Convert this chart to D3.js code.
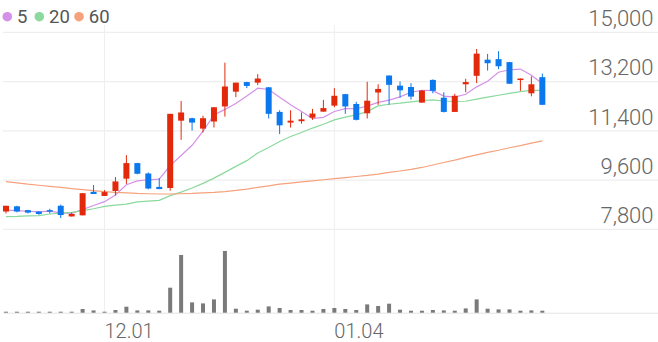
<!DOCTYPE html>
<html>
<head>
<meta charset="utf-8">
<script src="https://cdn.jsdelivr.net/npm/d3@7"></script>
<style>
  body { margin: 0; background: #fff; }
  svg { display: block; font-family: Roboto, "Noto Sans", sans-serif; }
</style>
</head>
<body>
<div id="chart"></div>
<script>
// trading days
const dates = [
  "11.20", "11.21", "11.22", "11.23", "11.24", "11.27", "11.28", "11.29", "11.30",
  "12.01", "12.04", "12.05", "12.06", "12.07", "12.08", "12.11", "12.12", "12.13",
  "12.14", "12.15", "12.18", "12.19", "12.20", "12.21", "12.22", "12.26", "12.27",
  "12.28", "01.02", "01.03", "01.04", "01.05", "01.08", "01.09", "01.10", "01.11",
  "01.12", "01.15", "01.16", "01.17", "01.18", "01.19", "01.22", "01.23", "01.24",
  "01.25", "01.26", "01.29", "01.30", "01.31"
];

const open = [
  8450, 8640, 8500, 8450, 8500, 8660, 8270, 8310, 9170, 9020,
  9200, 9650, 10220, 9840, 9350, 9310, 11770, 11860, 11480, 11740,
  12290, 12830, 13180, 13160, 12990, 12090, 11700, 11750, 11880, 12100,
  12320, 12740, 12380, 12040, 12800, 13420, 13050, 13000, 12430, 13260,
  12610, 12090, 13100, 13410, 14000, 14020, 13910, 13270, 12770, 13360
];
const high = [
  8660, 8660, 8510, 8450, 8550, 8700, 8410, 9120, 9420, 9230,
  9710, 10510, 10230, 9880, 9670, 12020, 12490, 11880, 11950, 12270,
  13890, 13160, 13190, 13470, 13000, 12150, 12150, 12070, 12200, 12530,
  12960, 12750, 12460, 13190, 13100, 13420, 13200, 13140, 12890, 13280,
  12810, 12750, 13300, 14390, 14210, 14310, 13920, 13310, 13390, 13490
];
const low = [
  8380, 8420, 8380, 8330, 8380, 8210, 8270, 8310, 9090, 9020,
  9040, 9460, 9810, 9260, 9270, 9210, 11070, 11410, 11340, 11520,
  11920, 12630, 12960, 13070, 11850, 11280, 11520, 11660, 11800, 12100,
  12260, 12020, 11780, 11850, 12350, 12350, 12610, 12540, 12430, 12770,
  12070, 12090, 12810, 13140, 13600, 13650, 13110, 12860, 12660, 12350
];
const close = [
  8660, 8450, 8410, 8360, 8450, 8320, 8360, 9120, 9090, 9160,
  9550, 10220, 9830, 9290, 9270, 12020, 12070, 11700, 11860, 12260,
  13020, 13160, 13040, 13310, 12020, 11600, 11770, 11820, 12030, 12230,
  12680, 12290, 11800, 12500, 12930, 13080, 12880, 12650, 12870, 12860,
  12090, 12680, 13180, 14220, 13870, 13760, 13120, 13310, 13100, 12350
];

const ma5 = [
  8500, 8480, 8460, 8440, 8466, 8398, 8380, 8522, 8668, 8810,
  9056, 9428, 9570, 9610, 9632, 10126, 10496, 10870, 11384, 11982,
  12182, 12400, 12668, 12958, 12910, 12626, 12348, 12104, 11848, 11890,
  12106, 12210, 12206, 12300, 12440, 12520, 12638, 12808, 12882, 12868,
  12670, 12630, 12736, 13006, 13208, 13542, 13630, 13656, 13432, 13128
];
const ma20 = [
  8260, 8270, 8290, 8300, 8360, 8390, 8420, 8480, 8550, 8640,
  8680, 8720, 8800, 8830, 8860, 9030, 9160, 9310, 9480, 9670,
  9880, 10100, 10310, 10590, 10790, 11010, 11190, 11340, 11500, 11640,
  11800, 11900, 11980, 12100, 12310, 12370, 12410, 12460, 12500, 12530,
  12490, 12470, 12480, 12560, 12630, 12700, 12770, 12830, 12880, 12880
];
const ma60 = [
  9540, 9500, 9450, 9410, 9370, 9330, 9290, 9250, 9210, 9180,
  9150, 9130, 9110, 9100, 9090, 9090, 9100, 9110, 9130, 9150,
  9180, 9220, 9270, 9330, 9390, 9450, 9490, 9530, 9570, 9610,
  9650, 9690, 9730, 9770, 9820, 9880, 9930, 9990, 10060, 10150,
  10240, 10330, 10430, 10520, 10610, 10690, 10780, 10860, 10950, 11030
];

const volume = [
  15000, 12000, 14000, 10000, 16000, 18000, 20000, 111000, 69000, 30000,
  81000, 180000, 69000, 69000, 60000, 750000, 1731000, 309000, 279000, 399000,
  1851000, 120000, 60000, 90000, 189000, 141000, 81000, 81000, 60000, 111000,
  141000, 111000, 81000, 249000, 201000, 270000, 90000, 60000, 60000, 81000,
  69000, 60000, 129000, 399000, 120000, 99000, 99000, 60000, 69000, 60000
];

const priceTicks = [7800, 9600, 11400, 13200, 15000];
const dateTicks = ["12.01", "01.04"];

const maLegend = ["5", "20", "60"];
const maColors = ["#d591e8", "#8bd99d", "#f5a27c"];

const width = 658;
const height = 342;
const upColor = "#e3290b";
const downColor = "#0b78ee";

const svg = d3
  .select("#chart")
  .append("svg")
  .attr("width", width)
  .attr("height", height);

const x = d3.scaleBand().domain(dates).range([0.53, 547.8]).padding(0);
const cx = (d) => x(d) + x.bandwidth() / 2;

const y = d3.scaleLinear().domain([7800, 15000]).range([229.3, 32.3]);
const yVol = d3.scaleLinear().domain([0, 2000000]).range([312.7, 246]);

// horizontal grid + right labels
const grid = svg.append("g");
grid
  .selectAll("line")
  .data(priceTicks)
  .join("line")
  .attr("x1", 3)
  .attr("x2", width)
  .attr("y1", (d) => y(d))
  .attr("y2", (d) => y(d))
  .attr("stroke", "#eeeeee")
  .attr("stroke-width", 1.3);

svg
  .append("g")
  .selectAll("text")
  .data(priceTicks)
  .join("text")
  .attr("x", 653.5)
  .attr("y", (d) => y(d) - 6.3)
  .attr("text-anchor", "end")
  .attr("font-size", 22)
  .attr("font-weight", 300)
  .attr("fill", "#666")
  .text((d) => d3.format(",")(d));

// vertical grid at labelled dates
svg
  .append("g")
  .selectAll("line")
  .data(dateTicks)
  .join("line")
  .attr("x1", (d) => cx(d))
  .attr("x2", (d) => cx(d))
  .attr("y1", 25)
  .attr("y2", 313)
  .attr("stroke", "#efefef")
  .attr("stroke-width", 1);

svg
  .append("g")
  .selectAll("text")
  .data(dateTicks)
  .join("text")
  .attr("x", (d) => cx(d))
  .attr("y", 337.7)
  .attr("font-size", 20)
  .attr("font-weight", 300)
  .attr("fill", "#666")
  .text((d) => d);

// volume baseline
svg
  .append("line")
  .attr("x1", 3)
  .attr("x2", width)
  .attr("y1", 313.2)
  .attr("y2", 313.2)
  .attr("stroke", "#e4e4e4")
  .attr("stroke-width", 1);

// volume bars
svg
  .append("g")
  .selectAll("rect")
  .data(dates)
  .join("rect")
  .attr("x", (d) => cx(d) - 2)
  .attr("width", 4)
  .attr("y", (d, i) => Math.min(yVol(volume[i]), yVol(0) - 1))
  .attr("height", (d, i) => Math.max(yVol(0) - yVol(volume[i]), 1))
  .attr("fill", "#7a7a7a");

// moving averages
const maSeries = [ma5, ma20, ma60];
const line = d3
  .line()
  .x((d, i) => cx(dates[i]))
  .y((d) => y(d));

svg
  .append("g")
  .selectAll("path")
  .data(maSeries)
  .join("path")
  .attr("d", (d) => line(d))
  .attr("fill", "none")
  .attr("stroke", (d, i) => maColors[i])
  .attr("stroke-width", 1.2);

// candles
const candles = svg
  .append("g")
  .selectAll("g")
  .data(dates)
  .join("g")
  .attr("fill", (d, i) => (close[i] >= open[i] ? upColor : downColor))
  .attr("stroke", (d, i) => (close[i] >= open[i] ? upColor : downColor));

candles
  .append("line")
  .attr("x1", (d) => cx(d))
  .attr("x2", (d) => cx(d))
  .attr("y1", (d, i) => y(high[i]))
  .attr("y2", (d, i) => y(low[i]))
  .attr("stroke-width", 1);

candles
  .append("rect")
  .attr("x", (d) => cx(d) - 3)
  .attr("width", 6)
  .attr("y", (d, i) => y(Math.max(open[i], close[i])))
  .attr("height", (d, i) => Math.max(Math.abs(y(open[i]) - y(close[i])), 1.5))
  .attr("stroke", "none");

// legend
const legend = svg.append("g");
const legendX = [7.3, 39.3, 79];
legend
  .selectAll("circle")
  .data(maLegend)
  .join("circle")
  .attr("cx", (d, i) => legendX[i])
  .attr("cy", 16.7)
  .attr("r", 4.8)
  .attr("fill", (d, i) => maColors[i]);
legend
  .selectAll("text")
  .data(maLegend)
  .join("text")
  .attr("x", (d, i) => legendX[i] + 9.8)
  .attr("y", 23.3)
  .attr("font-size", 18.5)
  .attr("fill", "#555")
  .text((d) => d);
</script>
</body>
</html>
